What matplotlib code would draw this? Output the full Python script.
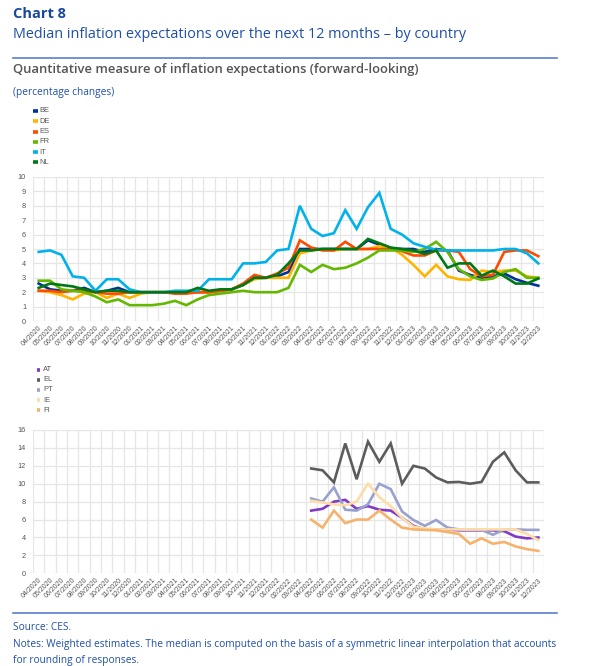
import matplotlib
matplotlib.use("Agg")
import matplotlib.pyplot as plt
from matplotlib.lines import Line2D
import numpy as np

# ---------------- data ----------------
months = ([f"{m:02d}/2020" for m in range(4, 13)] +
          [f"{m:02d}/{y}" for y in (2021, 2022, 2023) for m in range(1, 13)])

top_labels = ["BE", "DE", "ES", "FR", "IT", "NL"]
top_colors = ["#003299", "#FFB400", "#FF4B00", "#65B800", "#00B1EA", "#007816"]

BE = [2.6, 2.2, 2.1, 2.1, 2.3, 2.0, 2.1, 2.3, 2.0, 2.0, 2.0, 2.0, 2.0, 2.0, 2.0,
      2.0, 2.1, 2.2, 2.5, 3.0, 3.0, 3.1, 3.4, 5.0, 5.0, 5.0, 5.0, 5.0, 5.0, 5.6,
      5.3, 5.0, 5.0, 5.0, 4.8, 5.0, 4.9, 3.5, 3.2, 3.0, 3.1, 3.3, 2.9, 2.65, 2.45]
DE = [2.1, 2.0, 1.8, 1.5, 1.9, 2.0, 1.6, 1.9, 1.6, 1.9, 2.0, 2.0, 2.0, 2.0, 2.0,
      2.0, 2.1, 2.2, 2.5, 2.9, 3.0, 3.0, 3.0, 4.7, 4.9, 5.0, 4.9, 5.0, 5.0, 5.0,
      5.2, 5.1, 4.6, 3.9, 3.1, 3.9, 3.1, 2.9, 2.85, 3.5, 3.4, 3.5, 3.5, 3.1, 3.0]
ES = [2.1, 2.1, 2.0, 2.1, 2.1, 2.0, 1.9, 1.9, 2.0, 2.0, 2.0, 2.0, 1.9, 1.9, 2.0,
      2.0, 2.1, 2.2, 2.6, 3.2, 3.0, 3.3, 3.7, 5.6, 5.1, 4.9, 4.9, 5.5, 5.0, 5.0,
      5.0, 5.0, 4.85, 4.55, 4.55, 4.9, 4.9, 4.8, 3.6, 3.1, 3.2, 4.8, 4.9, 4.9, 4.5]
FR = [2.8, 2.8, 2.2, 2.1, 2.0, 1.7, 1.3, 1.5, 1.1, 1.1, 1.1, 1.2, 1.4, 1.1, 1.5,
      1.8, 1.9, 2.0, 2.1, 2.0, 2.0, 2.0, 2.3, 3.9, 3.4, 3.9, 3.6, 3.7, 4.0, 4.4,
      4.9, 4.9, 4.9, 4.8, 5.0, 5.5, 4.8, 3.6, 3.1, 2.85, 2.95, 3.4, 3.6, 3.0, 3.0]
IT = [4.8, 4.9, 4.6, 3.1, 3.0, 2.1, 2.9, 2.9, 2.2, 2.0, 2.0, 2.0, 2.1, 2.1, 2.1,
      2.9, 2.9, 2.9, 4.0, 4.0, 4.1, 4.9, 5.0, 8.0, 6.4, 5.9, 6.1, 7.7, 6.4, 7.9,
      8.9, 6.4, 6.0, 5.4, 5.15, 4.95, 4.9, 4.9, 4.9, 4.9, 4.9, 5.0, 5.0, 4.7, 4.0]
NL = [2.3, 2.6, 2.5, 2.4, 2.2, 2.0, 2.1, 2.1, 2.0, 2.0, 2.0, 2.0, 2.0, 2.0, 2.3,
      2.1, 2.2, 2.2, 2.5, 3.0, 3.0, 3.2, 4.0, 4.9, 4.9, 5.0, 5.0, 5.0, 5.0, 5.7,
      5.4, 5.1, 5.0, 4.9, 4.65, 4.9, 3.7, 4.0, 4.0, 3.15, 3.5, 3.1, 2.6, 2.6, 2.95]
top_series = [BE, DE, ES, FR, IT, NL]

bot_labels = ["AT", "EL", "PT", "IE", "FI"]
bot_colors = ["#8139C6", "#5C5C5C", "#98A1D0", "#FDDDA7", "#F6B26B"]
bot_start = 24  # 04/2022
AT = [7.0, 7.2, 8.0, 8.2, 7.2, 7.5, 7.1, 7.0, 6.2, 5.3, 4.9, 4.9, 4.9, 4.8, 4.8,
      4.8, 4.8, 4.7, 4.1, 3.9, 4.0]
EL = [11.7, 11.5, 10.15, 14.5, 10.5, 14.7, 12.45, 14.5, 10.0, 12.0, 11.7, 10.7,
      10.15, 10.2, 10.0, 10.2, 12.45, 13.5, 11.5, 10.15, 10.15]
PT = [8.35, 8.0, 9.6, 7.1, 7.0, 7.7, 10.0, 9.4, 6.9, 5.95, 5.3, 5.95, 5.1, 4.9,
      4.85, 4.85, 4.3, 4.9, 4.9, 4.85, 4.85]
IE = [8.1, 7.9, 7.7, 7.6, 8.0, 10.0, 8.5, 7.5, 6.2, 5.2, 5.0, 4.9, 4.9, 4.9, 4.9,
      4.9, 4.9, 4.9, 4.9, 4.4, 3.7]
FI = [6.0, 5.1, 7.0, 5.6, 6.0, 6.0, 7.0, 6.0, 5.1, 4.9, 4.85, 4.8, 4.6, 4.4, 3.3,
      3.9, 3.3, 3.5, 3.0, 2.7, 2.5]
bot_series = [AT, EL, PT, IE, FI]

# ---------------- figure ----------------
W, H = 600, 666
fig = plt.figure(figsize=(W / 100, H / 100), dpi=100)

def fx(x):
    return x / W

def fy(y):
    return 1 - y / H

HEAD = ["Open Sans", "DejaVu Sans"]
CHART = ["Liberation Sans", "DejaVu Sans"]
BLUE = "#1F4FA8"

fig.text(fx(13), fy(14), "Chart 8", fontsize=10.5, fontweight="bold",
         color="#17479E", family=HEAD, va="center", ha="left")
fig.text(fx(13), fy(35), "Median inflation expectations over the next 12 months \u2013 by country",
         fontsize=10.4, color=BLUE, family=HEAD, va="center", ha="left")
fig.add_artist(Line2D([fx(13), fx(557)], [fy(58), fy(58)], color="#5A7FCC", lw=1.2))
fig.text(fx(13), fy(70), "Quantitative measure of inflation expectations (forward-looking)",
         fontsize=9.4, fontweight="semibold", color="#555555", family=HEAD,
         va="center", ha="left")
fig.text(fx(13), fy(93), "(percentage changes)", fontsize=7.3, color=BLUE,
         family=HEAD, va="center", ha="left")

fig.add_artist(Line2D([fx(13), fx(557)], [fy(613), fy(613)], color="#5A7FCC", lw=1.2))
NOTE_FS = 7.25
fig.text(fx(13), fy(627), "Source: CES.", fontsize=NOTE_FS, color=BLUE, family=HEAD,
         va="center", ha="left")
fig.text(fx(13), fy(644),
         "Notes: Weighted estimates. The median is computed on the basis of a symmetric linear interpolation that accounts",
         fontsize=NOTE_FS, color=BLUE, family=HEAD, va="center", ha="left")
fig.text(fx(13), fy(660), "for rounding of responses.", fontsize=NOTE_FS, color=BLUE,
         family=HEAD, va="center", ha="left")

# legends (manual, small swatches)
def legend(labels, colors, x0, x1, tx, ys, lw):
    for lab, col, y in zip(labels, colors, ys):
        fig.add_artist(Line2D([fx(x0), fx(x1)], [fy(y), fy(y)], color=col,
                              lw=lw, solid_capstyle="butt"))
        fig.text(fx(tx), fy(y), lab, fontsize=5.4, color="#555555",
                 family=CHART, va="center", ha="left")

legend(top_labels, top_colors, 32.5, 37.5, 39.5,
       [111 + 10.25 * k for k in range(6)], 2.6)
legend(bot_labels, bot_colors, 37, 40, 43,
       [369.5 + 10.2 * k for k in range(5)], 2.6)

x = np.arange(len(months))

def make_axes(top, bottom, ymax, ystep):
    ax = fig.add_axes([fx(33), fy(bottom), fx(544) - fx(33), (bottom - top) / H])
    ax.set_xlim(-0.5, len(months) - 0.5)
    ax.set_ylim(0, ymax)
    for s in ax.spines.values():
        s.set_visible(False)
    for k in range(len(months) + 1):
        ax.axvline(k - 0.5, color="#e6e6e6", lw=0.9, zorder=0)
    for v in np.arange(0, ymax + 0.01, ystep):
        ax.axhline(v, color="#e6e6e6", lw=0.9, zorder=0)
    ax.set_yticks(np.arange(0, ymax + 0.01, ystep))
    ax.set_yticklabels([f"{int(v)}" for v in np.arange(0, ymax + 0.01, ystep)],
                       fontsize=5.3, color="#555555", family=CHART)
    ax.set_xticks(x)
    ax.set_xticklabels(months, rotation=45, ha="right", va="top",
                       rotation_mode="anchor", fontsize=5.0, color="#555555",
                       family=CHART)
    ax.tick_params(length=0, pad=2.5)
    ax.tick_params(axis="y", pad=5)
    return ax

ax1 = make_axes(177, 321, 10, 1)
for s, c in zip(top_series, top_colors):
    ax1.plot(x, s, color=c, lw=1.9, solid_joinstyle="miter", zorder=3)

ax2 = make_axes(430, 573.3, 16, 2)
xb = np.arange(bot_start, len(months))
for s, c in zip(bot_series, bot_colors):
    ax2.plot(xb, s, color=c, lw=1.9, solid_joinstyle="miter", zorder=3)

fig.savefig("out.png", dpi=100)
